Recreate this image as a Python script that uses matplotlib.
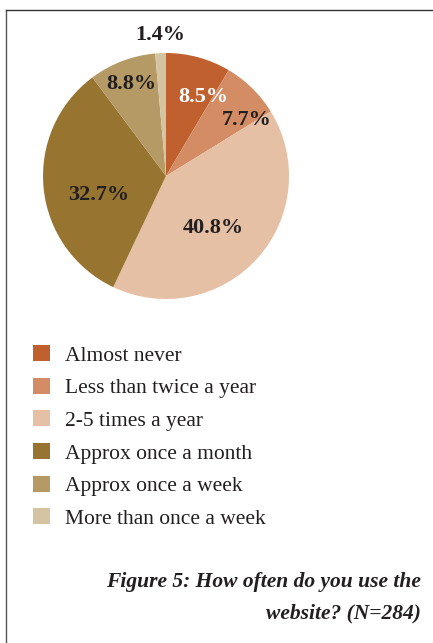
import matplotlib.pyplot as plt
import numpy as np

labels = ['Almost never', 'Less than twice a year', '2-5 times a year',
          'Approx once a month', 'Approx once a week', 'More than once a week']
values = [8.5, 7.7, 40.8, 32.7, 8.8, 1.4]
colors = ['#C0602F', '#D38C63', '#E5C0A4', '#977530', '#B59A66', '#D5C4A2']
label_colors = ['white', '#231F20', '#231F20', '#231F20', '#231F20', '#231F20']
# label placement: distance from centre (radius units) and angle shift (deg)
label_dist = [0.71, 0.80, 0.57, 0.57, 0.80, 1.15]
label_shift = [-10, -11, -6, 10, 0, 0]

plt.rcParams['font.family'] = ['Liberation Serif', 'DejaVu Serif']

W, H = 433, 643
fig = plt.figure(figsize=(W / 100, H / 100), dpi=100)

cx, cy, r = 166, 176, 123
ax = fig.add_axes([(cx - r) / W, (H - cy - r) / H, 2 * r / W, 2 * r / H])
wedges, _ = ax.pie(values, colors=colors, startangle=90, counterclock=False,
                   wedgeprops=dict(linewidth=0))
ax.set_xlim(-1, 1)
ax.set_ylim(-1, 1)

for w, v, c, d, s in zip(wedges, values, label_colors, label_dist, label_shift):
    ang = np.deg2rad((w.theta1 + w.theta2) / 2 + s)
    ax.text(d * np.cos(ang), d * np.sin(ang), f'{v}%', ha='center', va='center',
            fontsize=16, fontweight='bold', color=c, clip_on=False)

leg = fig.legend(wedges, labels, loc='upper left', bbox_to_anchor=(33 / W, 1 - 345 / H),
                 frameon=False, fontsize=15.5, handlelength=0.78, handleheight=0.78,
                 handletextpad=0.72, labelspacing=0.56, borderpad=0, borderaxespad=0)
for t in leg.get_texts():
    t.set_color('#231F20')

fig.text(421 / W, 1 - 582 / H, 'Figure 5: How often do you use the', ha='right', va='center',
         fontsize=15.5, fontweight='bold', style='italic', color='#231F20')
fig.text(421 / W, 1 - 613 / H, 'website? (N=284)', ha='right', va='center',
         fontsize=15.5, fontweight='bold', style='italic', color='#231F20')

# frame lines: left and top
fig.add_artist(plt.Line2D([6 / W, 6 / W], [0, 1 - 10 / H], color='#555555', lw=1.0))
fig.add_artist(plt.Line2D([6 / W, 1], [1 - 10 / H, 1 - 10 / H], color='#333333', lw=1.0))

fig.savefig('out.png', dpi=100)
